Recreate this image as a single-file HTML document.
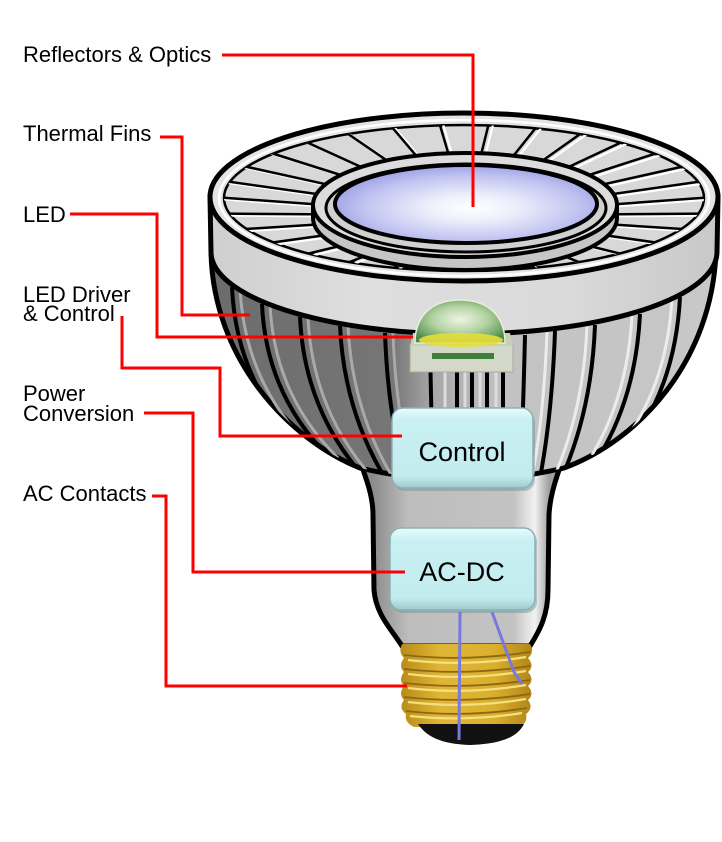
<!DOCTYPE html>
<html><head><meta charset="utf-8"><style>
html,body{margin:0;padding:0;background:#fff;}
svg{display:block;}
text{font-family:"Liberation Sans",Arial,sans-serif;}
</style></head><body>
<svg width="722" height="842" viewBox="0 0 722 842" xmlns="http://www.w3.org/2000/svg">
<defs>
<linearGradient id="bowlG" x1="211" y1="0" x2="716" y2="0" gradientUnits="userSpaceOnUse">
<stop offset="0" stop-color="#6c6c6c"/>
<stop offset="0.36" stop-color="#767676"/>
<stop offset="0.44" stop-color="#a8a8a8"/>
<stop offset="0.58" stop-color="#c2c2c2"/>
<stop offset="1" stop-color="#c8c8c8"/>
</linearGradient>
<linearGradient id="neckG" x1="373" y1="0" x2="549" y2="0" gradientUnits="userSpaceOnUse">
<stop offset="0" stop-color="#8c8c8c"/>
<stop offset="0.2" stop-color="#bdbdbd"/>
<stop offset="0.8" stop-color="#c3c3c3"/>
<stop offset="0.92" stop-color="#f2f2f2"/>
<stop offset="1" stop-color="#a0a0a0"/>
</linearGradient>
<linearGradient id="bandG" x1="210" y1="0" x2="718" y2="0" gradientUnits="userSpaceOnUse">
<stop offset="0" stop-color="#cfcfcf"/>
<stop offset="0.3" stop-color="#dedede"/>
<stop offset="0.7" stop-color="#dadada"/>
<stop offset="1" stop-color="#c8c8c8"/>
</linearGradient>
<radialGradient id="lensG" cx="0.52" cy="0.55" r="0.55">
<stop offset="0" stop-color="#ffffff"/>
<stop offset="0.3" stop-color="#eeeffc"/>
<stop offset="0.75" stop-color="#c0c3f0"/>
<stop offset="1" stop-color="#9ca1e6"/>
</radialGradient>
<radialGradient id="domeG" cx="0.5" cy="0.45" r="0.6">
<stop offset="0" stop-color="#eef4e4"/>
<stop offset="0.5" stop-color="#b5d3a4"/>
<stop offset="0.85" stop-color="#6fa564"/>
<stop offset="1" stop-color="#4d8a4a"/>
</radialGradient>
<linearGradient id="goldG" x1="400" y1="0" x2="534" y2="0" gradientUnits="userSpaceOnUse">
<stop offset="0" stop-color="#b88a18"/>
<stop offset="0.3" stop-color="#e0b636"/>
<stop offset="0.7" stop-color="#dbaf2e"/>
<stop offset="1" stop-color="#b08416"/>
</linearGradient>
<linearGradient id="boxG" x1="0" y1="0" x2="0" y2="1">
<stop offset="0" stop-color="#eafcfd"/>
<stop offset="0.15" stop-color="#c9f0f2"/>
<stop offset="0.85" stop-color="#c2ecee"/>
<stop offset="1" stop-color="#9fc8cb"/>
</linearGradient>
<clipPath id="bowlClip">
<path d="M 211,252 C 213,360 290,440 360,468 Q 462,492 564,468 C 640,440 712,360 716,252 Z"/>
</clipPath>
<clipPath id="finClip">
<ellipse cx="464" cy="198" rx="240" ry="73"/>
</clipPath>
</defs>

<!-- neck -->
<path d="M 356,450 C 366,478 373,495 373,515 L 374,590 C 376,615 392,630 402,646 L 530,646 C 540,630 548,615 548,590 L 549,515 C 550,495 556,478 566,450 Z" fill="url(#neckG)" stroke="#000" stroke-width="5"/>

<!-- bowl -->
<path d="M 211,252 C 213,360 290,440 360,468 Q 462,492 564,468 C 640,440 712,360 716,252 Z" fill="url(#bowlG)" stroke="#000" stroke-width="5"/>
<g clip-path="url(#bowlClip)" fill="none">
<g transform="translate(8,0)" stroke="#a9a9a9" stroke-width="3">
<path d="M 232,287 Q 236,380 300,445 M 262,304 Q 266,395 330,458 M 300,317 Q 304,405 358,470 M 340,326 Q 344,410 385,478 M 385,333 Q 388,420 408,485"/>
</g>
<g transform="translate(-8,0)" stroke="#ececec" stroke-width="3">
<path d="M 555,331 Q 552,415 540,478 M 595,325 Q 592,405 565,470 M 640,314 Q 636,395 600,455 M 680,297 Q 676,375 640,430"/>
</g>
<path d="M 445,336 L 445,490 M 465,336 L 465,490 M 480,336 L 480,490 M 496,336 L 496,490" stroke="#dcdcdc" stroke-width="3"/>
<g stroke="#000" stroke-width="4">
<path d="M 232,287 Q 236,380 300,445 M 262,304 Q 266,395 330,458 M 300,317 Q 304,405 358,470 M 340,326 Q 344,410 385,478 M 385,333 Q 388,420 408,485"/>
<path d="M 430,336 Q 431,420 434,490 M 457,337 L 457,490 M 472,337 L 472,490 M 487,337 L 487,490 M 503,336 L 503,490"/>
<path d="M 525,335 Q 523,420 520,485 M 555,331 Q 552,415 540,478 M 595,325 Q 592,405 565,470 M 640,314 Q 636,395 600,455 M 680,297 Q 676,375 640,430"/>
</g>
</g>

<!-- band -->
<path d="M 210,197 L 211,252 A 253,82 0 0 0 717,252 L 718,197 Z" fill="url(#bandG)" stroke="#000" stroke-width="5"/>

<!-- top face -->
<ellipse cx="464" cy="197" rx="254" ry="84" fill="#e4e4e4" stroke="#000" stroke-width="5"/>
<ellipse cx="464" cy="198" rx="245" ry="78" fill="none" stroke="#fff" stroke-width="2.5"/>
<ellipse cx="464" cy="198" rx="240" ry="73" fill="#d8d8d8" stroke="#000" stroke-width="2.5"/>
<g clip-path="url(#finClip)" fill="none">
<path transform="translate(4,2)" stroke="#fff" stroke-width="2.2" d="M714,197L605,205M708.5,213.6L601.9,214.4M692.5,229.6L593,223.3M666.3,244L578.3,231.5M631.3,256.4L558.7,238.4M589,266.3L535,244M541.3,273.1L508.3,247.8M386.7,273.1L421.7,247.8M339,266.3L395,244M296.7,256.4L371.3,238.4M261.7,244L351.7,231.5M235.5,229.6L337,223.3M219.5,213.6L328.1,214.4M214,197L325,205M219.5,180.4L328.1,195.6M235.5,164.4L337,186.7M261.7,150L351.7,178.5M296.7,137.6L371.3,171.6M339,127.7L395,166M386.7,120.9L421.7,162.2M437.7,117.4L450.3,160.2M490.3,117.4L479.7,160.2M541.3,120.9L508.3,162.2M589,127.7L535,166M631.3,137.6L558.7,171.6M666.3,150L578.3,178.5M692.5,164.4L593,186.7M708.5,180.4L601.9,195.6"/>
<path stroke="#000" stroke-width="2.5" d="M714,197L605,205M708.5,213.6L601.9,214.4M692.5,229.6L593,223.3M666.3,244L578.3,231.5M631.3,256.4L558.7,238.4M589,266.3L535,244M541.3,273.1L508.3,247.8M386.7,273.1L421.7,247.8M339,266.3L395,244M296.7,256.4L371.3,238.4M261.7,244L351.7,231.5M235.5,229.6L337,223.3M219.5,213.6L328.1,214.4M214,197L325,205M219.5,180.4L328.1,195.6M235.5,164.4L337,186.7M261.7,150L351.7,178.5M296.7,137.6L371.3,171.6M339,127.7L395,166M386.7,120.9L421.7,162.2M437.7,117.4L450.3,160.2M490.3,117.4L479.7,160.2M541.3,120.9L508.3,162.2M589,127.7L535,166M631.3,137.6L558.7,171.6M666.3,150L578.3,178.5M692.5,164.4L593,186.7M708.5,180.4L601.9,195.6"/>
</g>

<!-- raised ring -->
<path d="M 313,205 L 313,218 A 152,52 0 0 0 617,218 L 617,205 Z" fill="#c6c6c6" stroke="#000" stroke-width="4"/>
<ellipse cx="465" cy="205" rx="152" ry="52" fill="#dcdcdc" stroke="#000" stroke-width="4"/>
<ellipse cx="466" cy="208" rx="140" ry="44" fill="#d0d0d0" stroke="#000" stroke-width="3"/>
<ellipse cx="466" cy="204" rx="131" ry="39" fill="url(#lensG)" stroke="#000" stroke-width="4"/>

<!-- LED -->
<rect x="410" y="345" width="103" height="27" fill="#d3d8c9" stroke="#a5ab9a" stroke-width="1"/>
<polygon points="413,333 510,333 513,346 410,346" fill="#c6d0b4"/>
<path d="M 415,343 C 415,312 436,300 460,300 C 484,300 505,312 505,343 Z" fill="url(#domeG)" stroke="#e8eee0" stroke-width="1.5"/>
<ellipse cx="461" cy="340" rx="42" ry="7" fill="#e6de3a" opacity="0.9"/>
<rect x="432" y="353" width="62" height="6" fill="#3f7d3b"/>

<!-- Control box -->
<rect x="394" y="411" width="141" height="80" rx="11" fill="#6f8f91" opacity="0.45"/>
<rect x="392" y="408" width="141" height="80" rx="11" fill="url(#boxG)" stroke="#8ab0b4" stroke-width="1.5"/>
<text x="462" y="461" font-size="27" text-anchor="middle" fill="#000">Control</text>

<!-- AC-DC box -->
<rect x="392" y="531" width="145" height="82" rx="11" fill="#6f8f91" opacity="0.45"/>
<rect x="390" y="528" width="145" height="82" rx="11" fill="url(#boxG)" stroke="#8ab0b4" stroke-width="1.5"/>
<text x="462" y="581" font-size="27" text-anchor="middle" fill="#000">AC-DC</text>

<!-- screw base -->
<path d="M 402,644 L 530,644 Q 535,652 528,658 Q 535,666 528,672 Q 535,680 528,686 Q 535,694 528,700 Q 534,708 526,714 Q 528,722 520,727 L 414,727 Q 404,722 406,714 Q 398,708 404,700 Q 398,694 404,686 Q 398,680 404,672 Q 398,666 404,658 Q 398,652 402,644 Z" fill="url(#goldG)"/>
<g fill="none">
<path stroke="#8b6914" stroke-width="1.8" d="M 404,655 Q 466,662 530,652 M 404,669 Q 466,676 530,666 M 404,683 Q 466,690 530,680 M 404,697 Q 466,704 530,694 M 406,711 Q 466,718 527,708"/>
<path stroke="#f4e07c" stroke-width="2.2" d="M 408,660 Q 466,667 526,657 M 408,674 Q 466,681 526,671 M 408,688 Q 466,695 526,685 M 408,702 Q 466,709 526,699 M 410,716 Q 466,722 522,713"/>
</g>
<path d="M 418,724 L 524,724 C 518,736 503,744 470,745 C 440,744 426,736 418,724 Z" fill="#111"/>

<!-- wires -->
<g fill="none" stroke="#7878de" stroke-width="3">
<path d="M 460,612 L 459,740"/>
<path d="M 492,612 L 514,672 L 522,684"/>
</g>

<!-- red leader lines -->
<g fill="none" stroke="#ff0000" stroke-width="3">
<path d="M 222,55 H 473 V 207"/>
<path d="M 160,137 H 182 V 315 H 250"/>
<path d="M 70,214 H 157 V 337 H 413"/>
<path d="M 122,316 V 368 H 220 V 436 H 402"/>
<path d="M 144,413 H 193 V 572 H 405"/>
<path d="M 152,496 H 166 V 686 H 407"/>
</g>

<!-- labels -->
<g font-size="22" fill="#000">
<text x="23" y="62">Reflectors &amp; Optics</text>
<text x="23" y="141">Thermal Fins</text>
<text x="23" y="222">LED</text>
<text x="23" y="302">LED Driver</text>
<text x="23" y="321">&amp; Control</text>
<text x="23" y="401">Power</text>
<text x="23" y="421">Conversion</text>
<text x="23" y="501">AC Contacts</text>
</g>
</svg>
</body></html>
